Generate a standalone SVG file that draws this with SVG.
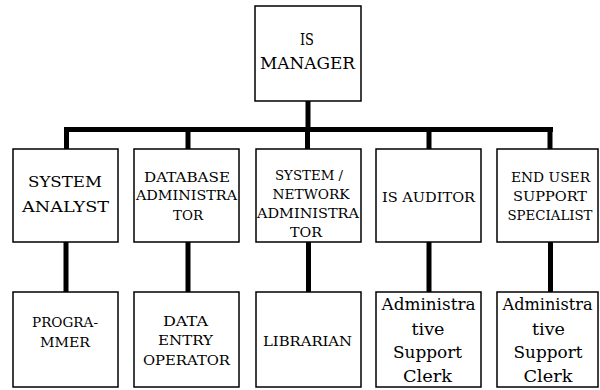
<svg xmlns="http://www.w3.org/2000/svg" width="600" height="390" viewBox="0 0 600 390">
<style>
.box{fill:#fff;stroke:#000;stroke-width:1.5}
.c{stroke:#000;stroke-width:5;fill:none}
text{font-family:"DejaVu Serif","Liberation Serif",serif;fill:#000;text-anchor:middle}
.l{font-size:17px}
.m{font-size:14px}
.s{font-size:12px}
.a{font-size:17px}
</style>
<rect width="600" height="390" fill="#fff"/>
<g id="connectors">
<line class="c" x1="308" y1="101" x2="308" y2="129.5"/>
<line class="c" x1="64" y1="129.5" x2="553" y2="129.5"/>
<line class="c" x1="66.5" y1="127" x2="66.5" y2="149"/>
<line class="c" x1="188" y1="127" x2="188" y2="149"/>
<line class="c" x1="307.5" y1="127" x2="307.5" y2="149"/>
<line class="c" x1="429" y1="127" x2="429" y2="149"/>
<line class="c" x1="550" y1="127" x2="550" y2="149"/>
<line class="c" x1="66" y1="242" x2="66" y2="292"/>
<line class="c" x1="188" y1="242" x2="188" y2="292"/>
<line class="c" x1="308.5" y1="242" x2="308.5" y2="292"/>
<line class="c" x1="429" y1="242" x2="429" y2="292"/>
<line class="c" x1="550.5" y1="242" x2="550.5" y2="292"/>
</g>
<g id="is-manager">
<rect class="box" x="255" y="6" width="106" height="95"/>
<text class="l" x="307" y="45" textLength="14" lengthAdjust="spacingAndGlyphs">IS</text>
<text class="l" x="307.5" y="69" textLength="95" lengthAdjust="spacingAndGlyphs">MANAGER</text>
</g>
<g id="system-analyst">
<rect class="box" x="13" y="149" width="105" height="93"/>
<text class="m" x="65" y="187" textLength="74" lengthAdjust="spacingAndGlyphs">SYSTEM</text>
<text class="m" x="65.5" y="212" textLength="87" lengthAdjust="spacingAndGlyphs">ANALYST</text>
</g>
<g id="database-administrator">
<rect class="box" x="134" y="149" width="105" height="93"/>
<text class="s" x="187" y="182" textLength="86" lengthAdjust="spacingAndGlyphs">DATABASE</text>
<text class="s" x="186.5" y="200" textLength="101" lengthAdjust="spacingAndGlyphs">ADMINISTRA</text>
<text class="s" x="188" y="220" textLength="30" lengthAdjust="spacingAndGlyphs">TOR</text>
</g>
<g id="network-administrator">
<rect class="box" x="256" y="149" width="105" height="93"/>
<text class="s" x="309" y="180" textLength="68" lengthAdjust="spacingAndGlyphs">SYSTEM /</text>
<text class="s" x="311" y="199" textLength="77" lengthAdjust="spacingAndGlyphs">NETWORK</text>
<text class="s" x="308" y="218" textLength="102" lengthAdjust="spacingAndGlyphs">ADMINISTRA</text>
<text class="s" x="306" y="237" textLength="32" lengthAdjust="spacingAndGlyphs">TOR</text>
</g>
<g id="is-auditor">
<rect class="box" x="376" y="149" width="105" height="93"/>
<text class="s" x="428.5" y="202" textLength="93" lengthAdjust="spacingAndGlyphs">IS AUDITOR</text>
</g>
<g id="end-user-support">
<rect class="box" x="497" y="149" width="101" height="93"/>
<text class="s" x="550.5" y="182" textLength="79" lengthAdjust="spacingAndGlyphs">END USER</text>
<text class="s" x="550" y="201" textLength="74" lengthAdjust="spacingAndGlyphs">SUPPORT</text>
<text class="s" x="550" y="220" textLength="85" lengthAdjust="spacingAndGlyphs">SPECIALIST</text>
</g>
<g id="programmer">
<rect class="box" x="13" y="292" width="105" height="95"/>
<text class="s" x="65" y="327" textLength="66" lengthAdjust="spacingAndGlyphs">PROGRA-</text>
<text class="s" x="65" y="347" textLength="50" lengthAdjust="spacingAndGlyphs">MMER</text>
</g>
<g id="data-entry-operator">
<rect class="box" x="134" y="292" width="105" height="95"/>
<text class="s" x="185.5" y="326" textLength="45" lengthAdjust="spacingAndGlyphs">DATA</text>
<text class="s" x="185.5" y="345" textLength="55" lengthAdjust="spacingAndGlyphs">ENTRY</text>
<text class="s" x="186.5" y="365" textLength="87" lengthAdjust="spacingAndGlyphs">OPERATOR</text>
</g>
<g id="librarian">
<rect class="box" x="256" y="292" width="105" height="95"/>
<text class="s" x="307.5" y="346" textLength="89" lengthAdjust="spacingAndGlyphs">LIBRARIAN</text>
</g>
<g id="admin-clerk-1">
<rect class="box" x="376" y="292" width="105" height="95"/>
<text class="a" x="428.5" y="310" textLength="94" lengthAdjust="spacingAndGlyphs">Administra</text>
<text class="a" x="428" y="335" textLength="33" lengthAdjust="spacingAndGlyphs">tive</text>
<text class="a" x="427.5" y="358" textLength="69" lengthAdjust="spacingAndGlyphs">Support</text>
<text class="a" x="427.5" y="382" textLength="49" lengthAdjust="spacingAndGlyphs">Clerk</text>
</g>
<g id="admin-clerk-2">
<rect class="box" x="497" y="292" width="101" height="95"/>
<text class="a" x="547.5" y="310" textLength="90" lengthAdjust="spacingAndGlyphs">Administra</text>
<text class="a" x="548.5" y="335" textLength="33" lengthAdjust="spacingAndGlyphs">tive</text>
<text class="a" x="548" y="358" textLength="69" lengthAdjust="spacingAndGlyphs">Support</text>
<text class="a" x="548" y="382" textLength="49" lengthAdjust="spacingAndGlyphs">Clerk</text>
</g>
</svg>
